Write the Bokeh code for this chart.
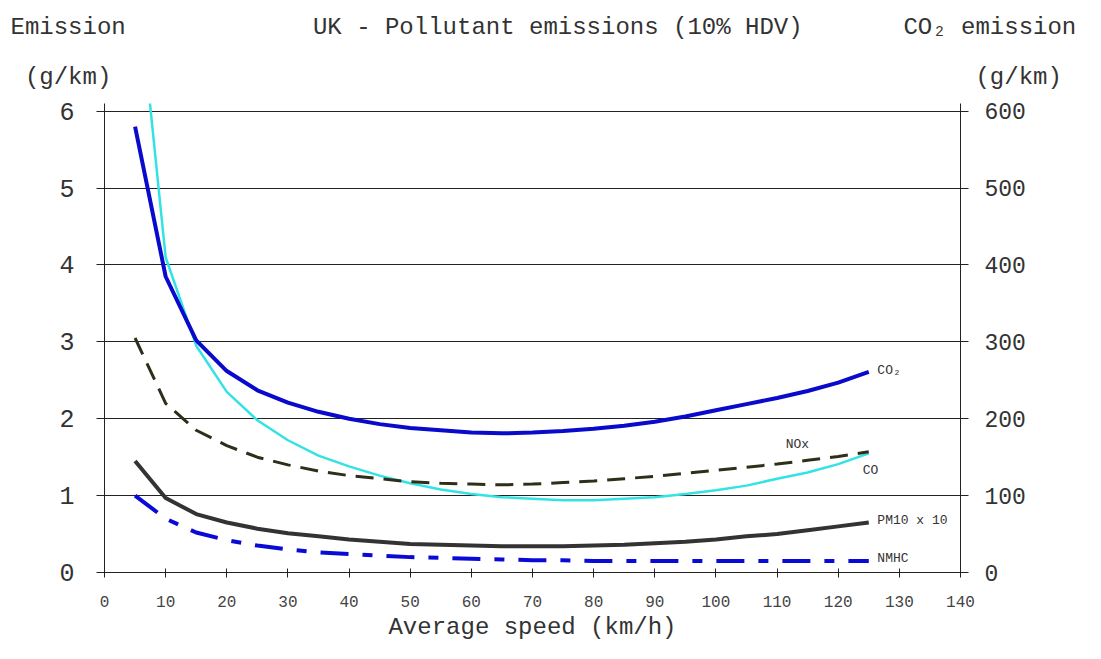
from bokeh.plotting import figure
from bokeh.models import LinearAxis, Range1d, FixedTicker, Label, Title
from bokeh.embed import file_html
from bokeh.resources import INLINE

speed = [5, 10, 15, 20, 25, 30, 35, 40, 45, 50, 55, 60, 65, 70, 75, 80, 85, 90, 95, 100, 105, 110, 115, 120, 125]
co2 = [580, 385, 302, 262, 237, 221, 209, 200, 193, 188, 185, 182, 181, 182, 184, 187, 191, 196, 203, 211, 219, 227, 236, 247, 261]
co = [8.0, 4.1, 2.95, 2.35, 1.98, 1.72, 1.52, 1.38, 1.26, 1.16, 1.08, 1.02, 0.98, 0.96, 0.94, 0.94, 0.96, 0.98, 1.02, 1.07, 1.13, 1.22, 1.30, 1.41, 1.55]
nox = [3.05, 2.2, 1.85, 1.65, 1.5, 1.4, 1.32, 1.26, 1.22, 1.18, 1.16, 1.15, 1.14, 1.15, 1.17, 1.19, 1.22, 1.25, 1.29, 1.33, 1.37, 1.41, 1.46, 1.51, 1.57]
pm10x10 = [1.45, 0.97, 0.76, 0.65, 0.57, 0.51, 0.47, 0.43, 0.40, 0.37, 0.36, 0.35, 0.34, 0.34, 0.34, 0.35, 0.36, 0.38, 0.40, 0.43, 0.47, 0.50, 0.55, 0.60, 0.65]
nmhc = [1.0, 0.7, 0.52, 0.42, 0.35, 0.30, 0.26, 0.24, 0.22, 0.20, 0.19, 0.18, 0.17, 0.16, 0.16, 0.15, 0.15, 0.15, 0.15, 0.15, 0.15, 0.15, 0.15, 0.15, 0.15]

x_ticks = list(range(0, 141, 10))
left_ticks = [0, 1, 2, 3, 4, 5, 6]
right_ticks = [0, 100, 200, 300, 400, 500, 600]

title_text = "UK - Pollutant emissions (10% HDV)"
left_title = ["Emission", "(g/km)"]
right_title = ["CO\u2082 emission", "(g/km)"]
x_title = "Average speed (km/h)"

FONT = "Liberation Mono"
TXT = "#333333"
SP = "\u00a0"

p = figure(width=1085, height=643, output_backend="svg", toolbar_location=None,
           x_range=Range1d(0, 140), y_range=Range1d(0, 6.1),
           min_border_left=104, min_border_right=125, min_border_top=103, min_border_bottom=71)
p.outline_line_color = None
p.extra_y_ranges = {"co2": Range1d(0, 610)}

# header rows (monospace font, aligned with non-breaking spaces)
row2 = SP + left_title[1] + SP * 60 + right_title[1]
row1 = left_title[0] + SP * 13 + title_text + SP * 7 + right_title[0]
for txt, so in [(row2, 26), (row1, 16)]:
    p.add_layout(Title(text=txt, align="left", offset=-94, standoff=so, text_font=FONT,
                       text_font_size="24px", text_font_style="normal", text_color=TXT), "above")

p.xgrid.visible = False
p.ygrid.ticker = FixedTicker(ticks=[1, 2, 3, 4, 5, 6])
p.ygrid.grid_line_color = "#222222"
p.ygrid.grid_line_width = 1.2

p.xaxis.ticker = FixedTicker(ticks=x_ticks)
p.xaxis.major_label_text_font = FONT
p.xaxis.major_label_text_font_size = "16px"
p.xaxis.major_label_text_color = "#444444"
p.xaxis.major_tick_in = 4
p.xaxis.major_tick_out = 5
p.xaxis.minor_tick_line_color = None
p.xaxis.axis_line_color = "#222222"
p.xaxis.major_tick_line_color = "#222222"
p.xaxis.major_label_standoff = 18
p.xaxis.axis_label = x_title
p.xaxis.axis_label_text_font = FONT
p.xaxis.axis_label_text_font_size = "24px"
p.xaxis.axis_label_text_font_style = "normal"
p.xaxis.axis_label_text_color = TXT
p.xaxis.axis_label_standoff = 4

p.yaxis.ticker = FixedTicker(ticks=left_ticks)
p.yaxis.major_label_text_font = FONT
p.yaxis.major_label_text_font_size = "25px"
p.yaxis.major_label_text_color = TXT
p.yaxis.major_tick_in = 0
p.yaxis.major_tick_out = 8
p.yaxis.minor_tick_line_color = None
p.yaxis.axis_line_color = "#222222"
p.yaxis.major_tick_line_color = "#222222"
p.yaxis.major_label_standoff = 22

ry = LinearAxis(y_range_name="co2", ticker=FixedTicker(ticks=right_ticks))
ry.major_label_text_font = FONT
ry.major_label_text_font_size = "23px"
ry.major_label_text_color = TXT
ry.major_tick_in = 0
ry.major_tick_out = 8
ry.minor_tick_line_color = None
ry.axis_line_color = "#222222"
ry.major_tick_line_color = "#222222"
ry.major_label_standoff = 16
p.add_layout(ry, "right")

p.line(speed, co, line_color="#33e3e3", line_width=2.5)
p.line(speed, nox, line_color="#2e2e1a", line_width=3, line_dash="18 10")
p.line(speed, pm10x10, line_color="#333333", line_width=4)
p.line(speed, nmhc, line_color="#0a0ad6", line_width=4, line_dash="28 14 10 14")
p.line(speed, co2, line_color="#0a0acc", line_width=4, y_range_name="co2")

def dlab(x, y, t, size, align="left"):
    p.add_layout(Label(x=x, y=y, text=t, text_font=FONT, text_font_size=size,
                       text_color=TXT, text_align=align, text_baseline="middle"))

dlab(126.4, 2.63, "CO\u2082", "13px")
dlab(111.4, 1.66, "NOx", "13px")
dlab(124.0, 1.33, "CO", "13px")
dlab(126.4, 0.67, "PM10 x 10", "13px")
dlab(126.4, 0.18, "NMHC", "13px")

open("out.html", "w").write(file_html(p, INLINE))
